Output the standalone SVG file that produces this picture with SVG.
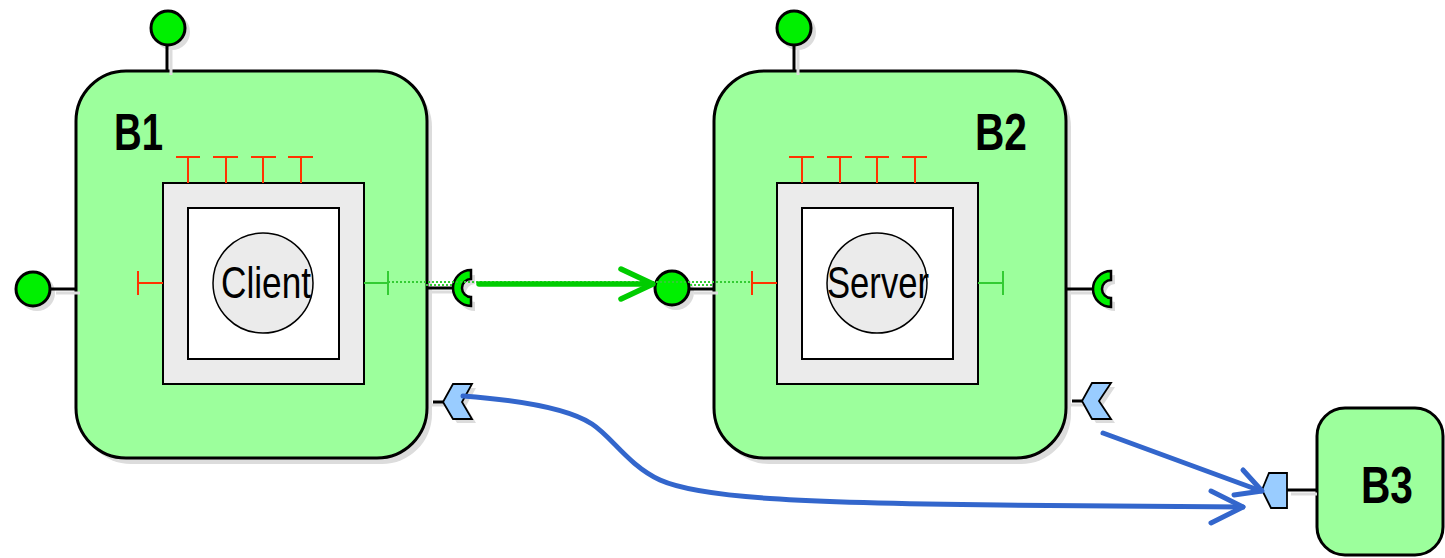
<svg xmlns="http://www.w3.org/2000/svg" width="1445" height="558" viewBox="0 0 1445 558">
<defs>
<style>
.shadow{fill:#dcdcdc;stroke:none}
.shl{stroke:#dcdcdc;stroke-width:3;fill:none}
.box{fill:#9cff9c;stroke:#000;stroke-width:3}
.part{fill:#ebebeb;stroke:#000;stroke-width:2}
.inner{fill:#fff;stroke:#000;stroke-width:2}
.role{fill:#ebebeb;stroke:#000;stroke-width:1.5}
.pl{stroke:#000;stroke-width:3;fill:none}
.prov{fill:#00f000;stroke:#000;stroke-width:3}
.req{fill:#00f000;stroke:#000;stroke-width:2.5;stroke-linejoin:miter}
.chev{fill:#99ccff;stroke:#000;stroke-width:1.8;stroke-linejoin:miter}
.red{stroke:#ff3300;stroke-width:2;fill:none}
.grn{stroke:#33cc33;stroke-width:2;fill:none}
.lbl{font-family:"Liberation Sans",Arial,sans-serif;font-weight:bold;font-size:51px;fill:#000}
.nm{font-family:"Liberation Sans",Arial,sans-serif;font-size:44px;fill:#000}
.dot{stroke:#33cc33;stroke-width:1.8;stroke-dasharray:2 2;fill:none}
.ga{stroke:#00cc00;stroke-width:5.5;stroke-linecap:round;stroke-linejoin:round;fill:none}
.ba{stroke:#3366cc;stroke-width:5;stroke-linecap:round;stroke-linejoin:round;fill:none}
</style>
</defs>

<g id="B1">
<rect class="shadow" x="81" y="77" width="351" height="387" rx="50"/>
<rect class="box" x="76" y="71" width="351" height="387" rx="50"/>
<text class="lbl" x="114" y="150" textLength="49" lengthAdjust="spacingAndGlyphs">B1</text>
<rect class="part" x="163" y="183" width="201" height="201"/>
<rect class="inner" x="188" y="208" width="151" height="151"/>
<circle class="role" cx="263" cy="283" r="50"/>
<text class="nm" x="266" y="298" text-anchor="middle" textLength="90" lengthAdjust="spacingAndGlyphs">Client</text>
<path class="red" d="M188,183V157M176,157H200M226,183V157M213,157H238M263,183V157M251,157H276M301,183V157M288,157H313"/>
<path class="red" d="M163,283H138M138,271V295"/>
<path class="grn" d="M364,283H388M388,271V295"/>
<line class="shl" x1="171" y1="50" x2="171" y2="75"/>
<circle class="shadow" cx="172" cy="32" r="18"/>
<line class="pl" x1="167" y1="46" x2="167" y2="71"/>
<circle class="prov" cx="168" cy="28" r="17"/>
<line class="shl" x1="56" y1="293" x2="80" y2="293"/>
<circle class="shadow" cx="37" cy="293" r="18"/>
<line class="pl" x1="51" y1="289" x2="76" y2="289"/>
<circle class="prov" cx="33" cy="289" r="17"/>
<line class="shl" x1="430" y1="292" x2="457" y2="292"/>
<path class="shadow" d="M475,275A18,18 0 0 0 475,311L475,302A9,9 0 0 1 475,284Z"/>
<line class="pl" x1="426" y1="288" x2="453" y2="288"/>
<path class="req" d="M471,270A18,18 0 0 0 471,306L471,297A9,9 0 0 1 471,279Z"/>
<line class="shl" x1="430" y1="405" x2="447" y2="405"/>
<polygon class="shadow" points="457,388 476,388 466,406 476,423 457,423 447,406"/>
<line class="pl" x1="433" y1="402" x2="443" y2="402"/>
<polygon class="chev" points="453,384 472,384 462,402 472,419 453,419 443,402"/>
</g>

<g id="B2">
<rect class="shadow" x="719" y="77" width="352" height="387" rx="50"/>
<rect class="box" x="714" y="71" width="352" height="387" rx="50"/>
<text class="lbl" x="975" y="150" textLength="52" lengthAdjust="spacingAndGlyphs">B2</text>
<rect class="part" x="777" y="183" width="201" height="201"/>
<rect class="inner" x="802" y="208" width="151" height="151"/>
<circle class="role" cx="877" cy="283" r="50"/>
<text class="nm" x="878" y="298" text-anchor="middle" textLength="102" lengthAdjust="spacingAndGlyphs">Server</text>
<path class="red" d="M802,183V157M789,157H814M840,183V157M827,157H852M877,183V157M865,157H889M915,183V157M902,157H927"/>
<path class="red" d="M777,283H752M752,271V295"/>
<path class="grn" d="M978,283H1003M1003,271V295"/>
<line class="shl" x1="798" y1="50" x2="798" y2="75"/>
<circle class="shadow" cx="798" cy="32" r="18"/>
<line class="pl" x1="794" y1="46" x2="794" y2="71"/>
<circle class="prov" cx="794" cy="28" r="17"/>
<line class="shl" x1="694" y1="293" x2="718" y2="293"/>
<circle class="shadow" cx="676" cy="292" r="18"/>
<line class="pl" x1="689" y1="289" x2="714" y2="289"/>
<circle class="prov" cx="672" cy="288" r="17"/>
<line class="shl" x1="1070" y1="293" x2="1096" y2="293"/>
<path class="shadow" d="M1115,275A18,18 0 0 0 1115,311L1115,302A9,9 0 0 1 1115,284Z"/>
<line class="pl" x1="1066" y1="289" x2="1092" y2="289"/>
<path class="req" d="M1111,271A18,18 0 0 0 1111,307L1111,298A9,9 0 0 1 1111,280Z"/>
<line class="shl" x1="1070" y1="405" x2="1086" y2="405"/>
<polygon class="shadow" points="1096,387 1115,387 1103,405 1115,423 1096,423 1086,405"/>
<line class="pl" x1="1072" y1="401" x2="1082" y2="401"/>
<polygon class="chev" points="1092,383 1111,383 1099,401 1111,419 1092,419 1082,401"/>
</g>

<g id="B3">
<rect class="box" x="1317" y="408" width="126" height="147" rx="28"/>
<text class="lbl" x="1361" y="503" textLength="52" lengthAdjust="spacingAndGlyphs">B3</text>
<line class="shl" x1="1291" y1="494" x2="1317" y2="494"/>
<line class="pl" x1="1287" y1="490" x2="1317" y2="490"/>
<polygon class="chev" points="1269,473 1287,473 1287,508 1271,508 1262,490"/>
</g>

<g id="connectors">
<line class="dot" x1="388" y1="282" x2="752" y2="282"/>
<line class="dot" x1="426" y1="285" x2="453" y2="285"/>
<line class="dot" x1="690" y1="285" x2="713" y2="285"/>
<line class="ga" x1="479" y1="284" x2="652" y2="284"/>
<polyline class="ga" points="621,269 653,284 621,299"/>
<path class="ba" d="M463,396C530,401 572,411 592,424C612,437 628,465 660,480C700,498 800,503 1000,505L1243,507"/>
<polyline class="ba" points="1211,491 1243,507 1211,523"/>
<line class="ba" x1="1103" y1="433" x2="1261" y2="491"/>
<polyline class="ba" points="1243,470 1262,491 1234,495"/>
</g>
</svg>
